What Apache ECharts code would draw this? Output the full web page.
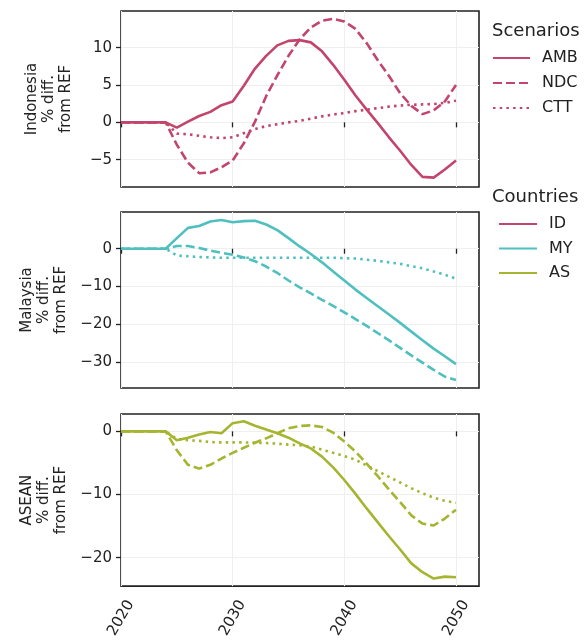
<!DOCTYPE html>
<html><head><meta charset="utf-8">
<script src="https://cdn.jsdelivr.net/npm/echarts@6/dist/echarts.min.js"></script>
<style>html,body{margin:0;padding:0;background:#fff}#c{width:584px;height:641px}</style>
</head><body><div id="c"></div>
<script>
const years = [2020,2021,2022,2023,2024,2025,2026,2027,2028,2029,2030,2031,2032,2033,2034,2035,2036,2037,2038,2039,2040,2041,2042,2043,2044,2045,2046,2047,2048,2049,2050];

const idAMB = [0,0,0,0,0,-0.7,0.1,0.85,1.4,2.3,2.8,4.9,7.2,8.9,10.3,10.9,11.0,10.7,9.5,7.7,5.7,3.6,1.7,-0.1,-2.0,-3.8,-5.7,-7.3,-7.4,-6.3,-5.1];
const idNDC = [0,0,0,0,0,-3.0,-5.4,-6.8,-6.7,-6.0,-5.1,-2.8,0.1,3.5,6.3,8.9,11.1,12.7,13.6,13.85,13.5,12.5,10.6,8.3,6.2,3.9,2.2,1.1,1.6,2.8,5.0];
const idCTT = [0,0,0,0,0,-1.5,-1.6,-1.8,-2.0,-2.1,-2.0,-1.45,-0.9,-0.5,-0.25,0.0,0.2,0.5,0.8,1.05,1.25,1.5,1.7,1.9,2.1,2.25,2.35,2.4,2.45,2.6,2.9];

const myAMB = [0,0,0,0,0,2.8,5.5,6.0,7.2,7.6,7.0,7.3,7.4,6.4,4.9,2.8,0.6,-1.4,-3.6,-6.0,-8.4,-10.8,-13.0,-15.2,-17.4,-19.6,-21.9,-24.2,-26.4,-28.4,-30.5];
const myNDC = [0,0,0,0,0,0.7,0.7,0.2,-0.5,-1.1,-1.6,-2.3,-3.3,-4.7,-6.4,-8.4,-10.2,-11.8,-13.5,-15.1,-16.8,-18.6,-20.4,-22.3,-24.2,-26.2,-28.2,-30.1,-32.0,-33.8,-34.7];
const myCTT = [0,0,0,0,0,-1.8,-2.0,-2.2,-2.3,-2.4,-2.4,-2.4,-2.4,-2.4,-2.4,-2.4,-2.4,-2.4,-2.4,-2.4,-2.5,-2.6,-2.9,-3.2,-3.6,-4.0,-4.6,-5.2,-6.0,-6.9,-7.9];

const asAMB = [0,0,0,0,0,-1.4,-1.0,-0.5,-0.1,-0.3,1.3,1.6,0.9,0.3,-0.3,-1.0,-1.9,-2.7,-4.0,-5.7,-7.7,-9.9,-12.2,-14.4,-16.6,-18.7,-20.9,-22.3,-23.3,-23.0,-23.1];
const asNDC = [0,0,0,0,0,-3.0,-5.3,-5.9,-5.3,-4.3,-3.4,-2.6,-1.8,-1.1,-0.3,0.5,0.85,0.95,0.7,-0.2,-1.6,-3.2,-5.1,-7.1,-9.2,-11.2,-13.3,-14.6,-14.9,-13.8,-12.4];
const asCTT = [0,0,0,0,0,-1.2,-1.4,-1.5,-1.7,-1.75,-1.75,-1.75,-1.8,-1.85,-1.95,-2.1,-2.2,-2.4,-2.9,-3.4,-3.9,-4.5,-5.4,-6.3,-7.2,-8.1,-9.0,-9.8,-10.5,-11.0,-11.3];

const countries = ['ID','MY','AS'];
const scenarios = ['AMB','NDC','CTT'];
const panelNames = ['Indonesia\n% diff.\nfrom REF','Malaysia\n% diff.\nfrom REF','ASEAN\n% diff.\nfrom REF'];
const xTicks = [2020,2030,2040,2050];
const yTicks = [[-5,0,5,10],[-30,-20,-10,0],[-20,-10,0]];
const yRanges = [[-8.65,14.9],[-36.8,9.7],[-24.5,2.75]];
const panelData = [[idAMB,idNDC,idCTT],[myAMB,myNDC,myCTT],[asAMB,asNDC,asCTT]];

const colors = {ID:'#c2456d', MY:'#4fbfbf', AS:'#a6b52f'};
const dashes = {AMB:'solid', NDC:[9,4], CTT:[2.5,4.2]};
const textColor = '#222';
const minus = v => String(v).replace('-', '\u2212');

const gridTops = [11, 212, 414];
const grids = gridTops.map(t => ({left:121, width:358, top:t, height:176, show:true, borderColor:'#222', borderWidth:1.6, backgroundColor:'transparent'}));

const xAxes = gridTops.map((t,i) => ({
  type:'value', gridIndex:i, min:2020, max:2052.06, interval:10,
  axisLine:{show:false},
  axisTick:{show:true, customValues:xTicks, length:5, lineStyle:{color:textColor, width:1.3}},
  axisLabel:{show:i===2, customValues:xTicks, rotate:60, align:'center', verticalAlign:'middle', margin:32, fontSize:15, color:textColor, fontFamily:'DejaVu Sans', formatter:v => String(v)},
  splitLine:{show:true, lineStyle:{color:'#efefef', width:1}}
}));

const yAxes = gridTops.map((t,i) => ({
  type:'value', gridIndex:i, min:yRanges[i][0], max:yRanges[i][1],
  name:panelNames[i], nameLocation:'middle', nameRotate:90, nameGap:46,
  nameTextStyle:{fontSize:15, lineHeight:17, color:textColor, fontFamily:'DejaVu Sans', align:'center'},
  axisLine:{show:false},
  axisTick:{show:true, customValues:yTicks[i], length:5, lineStyle:{color:textColor, width:1.3}},
  axisLabel:{customValues:yTicks[i], fontSize:15, color:textColor, fontFamily:'DejaVu Sans', margin:9, formatter:minus},
  splitLine:{show:true, lineStyle:{color:'#efefef', width:1}}
}));

const series = [];
countries.forEach((c,i) => {
  scenarios.forEach((s,j) => {
    series.push({
      type:'line', name:c+' '+s, xAxisIndex:i, yAxisIndex:i,
      data: years.map((y,k) => [y, panelData[i][j][k]]),
      symbol:'none', smooth:false,
      lineStyle:{color:colors[c], width:2.6, type:dashes[s], cap:'butt'},
      itemStyle:{color:colors[c]}
    });
  });
});
// legend-only entries
scenarios.forEach(s => series.push({type:'line', name:s, xAxisIndex:0, yAxisIndex:0, data:[], symbol:'none',
  lineStyle:{color:colors.ID, width:2.6, type:dashes[s]}, itemStyle:{color:colors.ID}}));
countries.forEach(c => series.push({type:'line', name:c, xAxisIndex:0, yAxisIndex:0, data:[], symbol:'none',
  lineStyle:{color:colors[c], width:2.6, type:'solid'}, itemStyle:{color:colors[c]}}));

const legendText = {fontSize:16, color:textColor, fontFamily:'DejaVu Sans', lineHeight:18, padding:[0,0,0,7]};
const hiddenSymbol = {opacity:0, borderWidth:0};
const option = {
  animation:false,
  backgroundColor:'#fff',
  grid:grids, xAxis:xAxes, yAxis:yAxes, series:series,
  legend:[
    {data:scenarios, orient:'vertical', left:492, top:49, itemWidth:37, itemHeight:14, itemGap:7, padding:0, textStyle:legendText, selectedMode:false, itemStyle:hiddenSymbol},
    {data:countries, orient:'vertical', left:498, top:215, itemWidth:38, itemHeight:14, itemGap:6.5, padding:0, textStyle:legendText, selectedMode:false, itemStyle:hiddenSymbol}
  ],
  graphic:[
    {type:'text', left:492, top:22, style:{text:'Scenarios', fontSize:18, fill:textColor, fontFamily:'DejaVu Sans'}},
    {type:'text', left:492, top:188, style:{text:'Countries', fontSize:18, fill:textColor, fontFamily:'DejaVu Sans'}}
  ]
};
const chart = echarts.init(document.getElementById('c'), null, {renderer:'canvas'});
chart.setOption(option);
</script></body></html>
